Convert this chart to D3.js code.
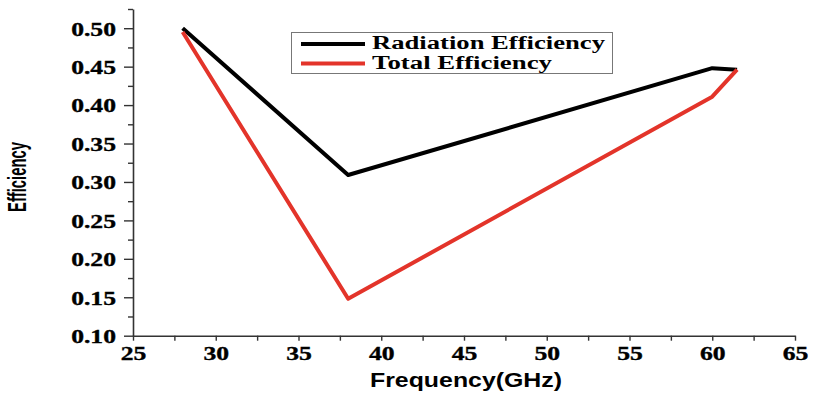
<!DOCTYPE html>
<html>
<head>
<meta charset="utf-8">
<script src="https://cdn.jsdelivr.net/npm/d3@7"></script>
<style>
  body { margin: 0; background: #fff; }
  svg { display: block; }
</style>
</head>
<body>
<script>
// data
var freq_rad = [28, 38, 60, 61.5];
var eff_rad = [0.500, 0.309, 0.448, 0.446];
var freq_tot = [28, 38, 60, 61.5];
var eff_tot = [0.495, 0.148, 0.411, 0.446];
var series_names = ["Radiation Efficiency", "Total Efficiency"];
var series_colors = ["#000000", "#e3342a"];
var x_ticks = [25, 30, 35, 40, 45, 50, 55, 60, 65];
var y_ticks = [0.10, 0.15, 0.20, 0.25, 0.30, 0.35, 0.40, 0.45, 0.50];

var W = 813, H = 393;
var stretch = 1.35;   // the original's labels are drawn wide

var svg = d3.select("body").append("svg")
    .attr("width", W)
    .attr("height", H);

var x = d3.scaleLinear().domain([25, 65]).range([133, 795]);
var y = d3.scaleLinear().domain([0.10, 0.525]).range([335.7, 9]);

//minor ticks
var x_minor = [];
for (var i = 0; i < x_ticks.length - 1; i++) x_minor.push(x_ticks[i] + 2.5);
var y_minor = [];
for (var j = 0; j < y_ticks.length; j++) y_minor.push(+(y_ticks[j] + 0.025).toFixed(3));

function labelStyle(sel){
    sel.style("font-family", "Liberation Serif, Times New Roman, serif")
       .style("font-weight", "bold")
       .style("font-size", "19px")
       .style("fill", "#000")
       .style("stroke", "#000")
       .style("stroke-width", 0.35);
}

// y axis
var yAxis = svg.append("g")
    .attr("class", "y axis")
    .attr("transform", "translate(" + x(25) + ",0)")
    .call(d3.axisLeft(y).tickValues(y_ticks).tickSize(9).tickSizeOuter(0)
        .tickFormat(d3.format(".2f")));
yAxis.select(".domain").attr("stroke", "#333").attr("stroke-width", 1.6);
yAxis.selectAll(".tick line").attr("stroke", "#333").attr("stroke-width", 1.4);
yAxis.selectAll(".tick text")
    .attr("x", -17 / stretch)
    .attr("transform", "scale(" + stretch + ",1)")
    .attr("dy", "0.36em")
    .call(labelStyle);

svg.append("g")
    .attr("transform", "translate(" + x(25) + ",0)")
    .call(d3.axisLeft(y).tickValues(y_minor).tickSize(5).tickFormat(""))
    .call(function(g){ g.select(".domain").remove(); })
    .selectAll("line").attr("stroke", "#333").attr("stroke-width", 1.4);

// x axis
var xAxis = svg.append("g")
    .attr("class", "x axis")
    .attr("transform", "translate(0," + y(0.10) + ")")
    .call(d3.axisBottom(x).tickValues(x_ticks).tickSize(5).tickSizeOuter(0));
xAxis.select(".domain").attr("stroke", "#333").attr("stroke-width", 1.6);
xAxis.selectAll(".tick line").attr("stroke", "#333").attr("stroke-width", 1.4);
xAxis.selectAll(".tick text")
    .attr("y", 24)
    .attr("dy", 0)
    .attr("transform", "scale(" + stretch + ",1)")
    .call(labelStyle);

svg.append("g")
    .attr("transform", "translate(0," + y(0.10) + ")")
    .call(d3.axisBottom(x).tickValues(x_minor).tickSize(5).tickFormat(""))
    .call(function(g){ g.select(".domain").remove(); })
    .selectAll("line").attr("stroke", "#333").attr("stroke-width", 1.4);

// axis titles
svg.append("text")
    .attr("x", 466)
    .attr("y", 387)
    .attr("text-anchor", "middle")
    .attr("textLength", 192)
    .attr("lengthAdjust", "spacingAndGlyphs")
    .style("font-family", "Liberation Sans, Arial, sans-serif")
    .style("font-weight", "bold")
    .style("font-size", "20px")
    .text("Frequency(GHz)");

svg.append("text")
    .attr("transform", "translate(26,177) rotate(-90)")
    .attr("text-anchor", "middle")
    .attr("textLength", 70)
    .attr("lengthAdjust", "spacingAndGlyphs")
    .style("font-family", "Liberation Sans, Arial, sans-serif")
    .style("font-weight", "bold")
    .style("font-size", "25px")
    .text("Efficiency");

// lines
var line = d3.line()
    .x(function(d){ return x(d[0]); })
    .y(function(d){ return y(d[1]); });

var rad = d3.zip(freq_rad, eff_rad);
var tot = d3.zip(freq_tot, eff_tot);

svg.append("path")
    .datum(rad)
    .attr("fill", "none")
    .attr("stroke", series_colors[0])
    .attr("stroke-width", 4)
    .attr("stroke-linejoin", "round")
    .attr("d", line);

svg.append("path")
    .datum(tot)
    .attr("fill", "none")
    .attr("stroke", series_colors[1])
    .attr("stroke-width", 4)
    .attr("stroke-linejoin", "round")
    .attr("d", line);

// legend
var legend = svg.append("g").attr("class", "legend");
legend.append("rect")
    .attr("x", 291.5).attr("y", 32.5)
    .attr("width", 321).attr("height", 41)
    .attr("fill", "none")
    .attr("stroke", "#777")
    .attr("stroke-width", 1);

var legendW = [233, 180];
series_names.forEach(function(name, k){
    var ly = 44 + k * 19.5;
    legend.append("line")
        .attr("x1", 301).attr("x2", 365)
        .attr("y1", ly).attr("y2", ly)
        .attr("stroke", series_colors[k])
        .attr("stroke-width", 4);
    legend.append("text")
        .attr("x", 372)
        .attr("y", ly + 5)
        .attr("textLength", legendW[k])
        .attr("lengthAdjust", "spacingAndGlyphs")
        .style("font-family", "Liberation Serif, Times New Roman, serif")
        .style("font-weight", "bold")
        .style("font-size", "18px")
        .text(name);
});
</script>
</body>
</html>
